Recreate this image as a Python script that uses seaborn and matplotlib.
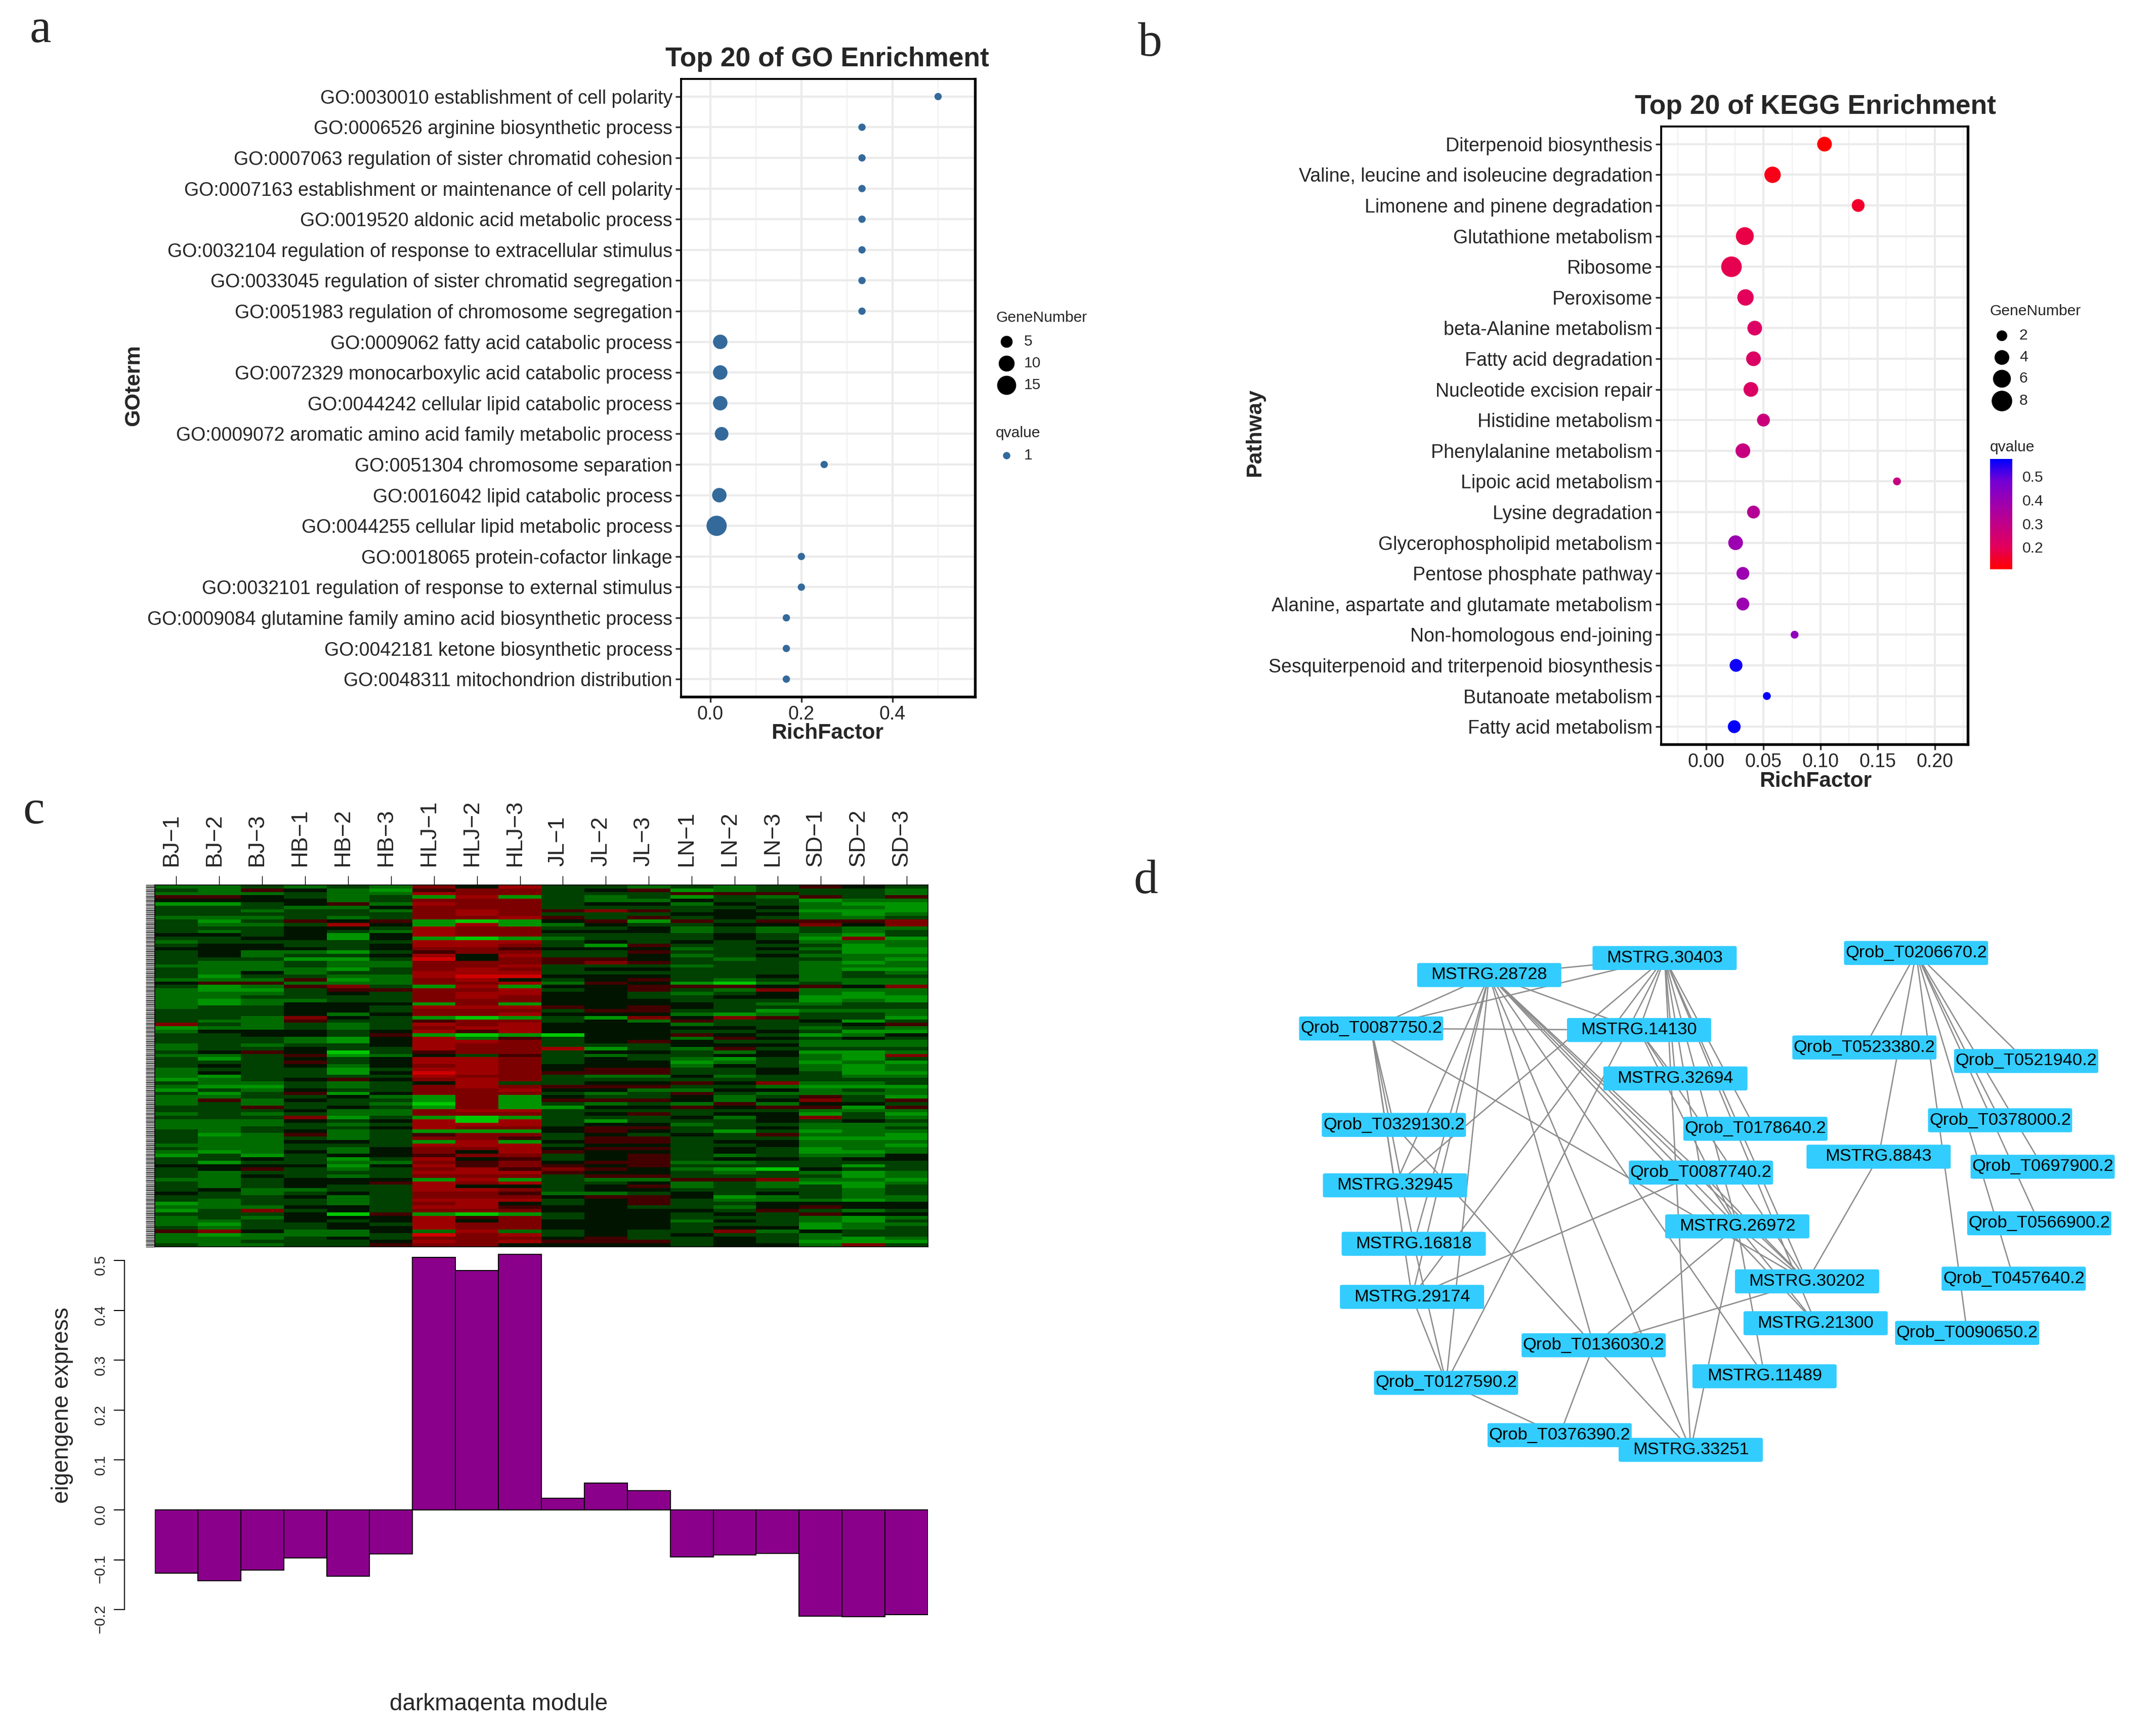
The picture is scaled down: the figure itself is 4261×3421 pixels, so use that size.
#!/usr/bin/env python3
"""Four panel figure: GO and KEGG enrichment, module heatmap with eigengene bars, network."""
import numpy as np
import pandas as pd
import matplotlib
matplotlib.use("Agg")
import matplotlib.pyplot as plt
import seaborn as sns
from matplotlib.colors import LinearSegmentedColormap, ListedColormap, Normalize
from matplotlib.patches import FancyBboxPatch, Rectangle
from matplotlib.transforms import ScaledTranslation

W, H = 4261, 3421

# panel a
go_terms = [
    "GO:0030010 establishment of cell polarity",
    "GO:0006526 arginine biosynthetic process",
    "GO:0007063 regulation of sister chromatid cohesion",
    "GO:0007163 establishment or maintenance of cell polarity",
    "GO:0019520 aldonic acid metabolic process",
    "GO:0032104 regulation of response to extracellular stimulus",
    "GO:0033045 regulation of sister chromatid segregation",
    "GO:0051983 regulation of chromosome segregation",
    "GO:0009062 fatty acid catabolic process",
    "GO:0072329 monocarboxylic acid catabolic process",
    "GO:0044242 cellular lipid catabolic process",
    "GO:0009072 aromatic amino acid family metabolic process",
    "GO:0051304 chromosome separation",
    "GO:0016042 lipid catabolic process",
    "GO:0044255 cellular lipid metabolic process",
    "GO:0018065 protein-cofactor linkage",
    "GO:0032101 regulation of response to external stimulus",
    "GO:0009084 glutamine family amino acid biosynthetic process",
    "GO:0042181 ketone biosynthetic process",
    "GO:0048311 mitochondrion distribution",
]
go_rich = [0.5, 0.333, 0.333, 0.333, 0.333, 0.333, 0.333, 0.333, 0.022, 0.022,
           0.022, 0.025, 0.25, 0.02, 0.014, 0.2, 0.2, 0.167, 0.167, 0.167]
go_genes = [1, 1, 1, 1, 1, 1, 1, 1, 8, 8, 8, 7, 1, 8, 17, 1, 1, 1, 1, 1]
go_legend_genes = [5, 10, 15]

# panel b
kegg_terms = [
    "Diterpenoid biosynthesis",
    "Valine, leucine and isoleucine degradation",
    "Limonene and pinene degradation",
    "Glutathione metabolism",
    "Ribosome",
    "Peroxisome",
    "beta-Alanine metabolism",
    "Fatty acid degradation",
    "Nucleotide excision repair",
    "Histidine metabolism",
    "Phenylalanine metabolism",
    "Lipoic acid metabolism",
    "Lysine degradation",
    "Glycerophospholipid metabolism",
    "Pentose phosphate pathway",
    "Alanine, aspartate and glutamate metabolism",
    "Non-homologous end-joining",
    "Sesquiterpenoid and triterpenoid biosynthesis",
    "Butanoate metabolism",
    "Fatty acid metabolism",
]
kegg_rich = [0.1035, 0.058, 0.133, 0.0337, 0.022, 0.0343, 0.0424, 0.0413, 0.039, 0.05,
             0.032, 0.167, 0.0413, 0.0256, 0.032, 0.032, 0.0773, 0.026, 0.053, 0.0244]
kegg_genes = [4, 5, 3, 6, 8, 5, 4, 4, 4, 3, 4, 1, 3, 4, 3, 3, 1, 3, 1, 3]
kegg_q = [0.11, 0.13, 0.15, 0.18, 0.19, 0.2, 0.22, 0.22, 0.22, 0.27,
          0.28, 0.28, 0.33, 0.39, 0.39, 0.39, 0.42, 0.56, 0.57, 0.57]
kegg_legend_genes = [2, 4, 6, 8]
q_ticks = [0.5, 0.4, 0.3, 0.2]

# panel c
samples = ["BJ−1", "BJ−2", "BJ−3", "HB−1", "HB−2", "HB−3", "HLJ−1", "HLJ−2", "HLJ−3",
           "JL−1", "JL−2", "JL−3", "LN−1", "LN−2", "LN−3", "SD−1", "SD−2", "SD−3"]
eigengene = [-0.127, -0.142, -0.121, -0.096, -0.133, -0.088, 0.506, 0.480, 0.512,
             0.023, 0.054, 0.039, -0.094, -0.090, -0.087, -0.213, -0.214, -0.210]
# levels: 0 bright green, 4 black, 8 bright red
heat_rows = [
    "223 232 647 332 323 543", "325 421 566 345 123 332", "222 322 766 333 555 332",
    "554 323 171 323 132 535", "444 423 666 322 433 122", "113 452 766 344 243 211",
    "333 224 666 333 334 221", "332 332 676 565 343 111", "333 333 676 333 444 212",
    "222 323 667 535 343 223", "313 545 101 451 535 556", "322 374 171 243 344 646",
    "333 443 766 334 232 322", "323 432 766 444 232 323", "443 414 766 333 343 213",
    "334 414 101 233 343 161", "233 333 777 343 434 222", "344 334 776 315 333 312",
    "444 434 665 444 234 211", "342 213 566 335 333 311", "342 334 747 334 234 222",
    "333 113 846 554 323 321", "322 322 666 565 333 212", "222 322 667 333 233 222",
    "322 213 676 344 333 211", "324 233 777 333 333 232", "313 322 788 444 334 233",
    "222 512 674 345 323 222", "455 222 667 254 102 322", "312 563 171 445 554 546",
    "211 355 667 345 326 222", "222 343 677 443 234 212", "223 333 676 443 344 111",
    "212 233 666 444 333 121", "212 444 161 444 432 233", "233 443 777 545 433 333",
    "333 443 666 355 331 222", "333 424 667 444 212 332", "332 643 101 316 465 331",
    "322 533 566 342 533 413", "632 323 767 444 233 345", "122 323 677 444 443 232",
    "244 434 757 444 334 311", "334 435 101 044 543 124", "333 214 725 344 254 343",
    "333 214 776 345 433 222", "232 334 766 333 444 222", "233 433 766 713 253 333",
    "345 403 566 344 324 112", "223 512 435 323 344 216", "313 434 776 343 213 213",
    "333 534 776 344 123 121", "343 424 676 444 243 212", "233 313 776 455 334 212",
    "243 314 876 555 334 311", "213 333 766 322 423 322", "123 454 676 333 333 333",
    "322 323 473 344 546 223", "211 323 676 555 332 111", "132 433 667 442 244 232",
    "313 514 666 323 532 222", "223 342 161 433 423 531", "252 433 161 555 424 635",
    "232 332 061 323 252 443", "335 343 161 144 545 515", "333 422 677 333 333 222",
    "232 322 666 345 344 131", "333 613 101 333 424 632", "222 434 707 313 334 343",
    "222 323 777 344 233 222", "223 334 766 455 334 223", "323 423 111 454 313 122",
    "312 523 566 343 435 221", "322 323 665 355 333 111", "322 443 171 455 344 222",
    "222 333 777 344 334 221", "322 324 667 455 343 122", "212 424 647 544 343 112",
    "131 344 566 345 323 224", "334 313 745 345 344 344", "313 322 656 455 223 333",
    "444 414 756 545 333 313", "345 323 675 654 210 433", "323 333 777 544 323 212",
    "324 323 666 355 333 312", "223 444 171 322 556 221", "323 445 767 334 232 112",
    "323 433 744 345 232 313", "342 233 776 344 333 323", "432 343 665 223 434 323",
    "333 423 666 455 412 322", "323 323 777 345 322 212", "123 323 674 345 334 444",
    "222 443 775 443 324 544", "136 343 666 444 435 323", "333 405 101 344 343 544",
    "232 444 756 344 333 212", "223 434 746 444 243 213", "213 343 766 444 333 122",
    "323 344 766 444 344 123", "564 224 272 343 362 433", "212 223 867 343 433 233",
    "222 343 666 453 343 212", "223 334 767 555 343 111", "322 335 664 444 344 263",
]

# panel d
node_names = [
    "MSTRG.30403", "MSTRG.28728", "Qrob_T0206670.2", "Qrob_T0087750.2", "MSTRG.14130",
    "Qrob_T0523380.2", "Qrob_T0521940.2", "MSTRG.32694", "Qrob_T0329130.2", "Qrob_T0178640.2",
    "Qrob_T0378000.2", "MSTRG.8843", "Qrob_T0087740.2", "Qrob_T0697900.2", "MSTRG.32945",
    "MSTRG.26972", "Qrob_T0566900.2", "MSTRG.16818", "MSTRG.29174", "MSTRG.30202",
    "Qrob_T0457640.2", "MSTRG.21300", "Qrob_T0090650.2", "Qrob_T0136030.2", "MSTRG.11489",
    "Qrob_T0127590.2", "Qrob_T0376390.2", "MSTRG.33251",
]
node_x = [705, 396, 1148, 188, 660, 1057, 1342, 724, 228, 865, 1296, 1082, 769, 1371,
          230, 833, 1365, 263, 260, 956, 1320, 971, 1238, 580, 881, 320, 520, 751]
node_y = [118, 162, 105, 300, 304, 349, 384, 429, 549, 559, 537, 631, 672, 657,
          705, 811, 803, 856, 993, 953, 946, 1061, 1086, 1118, 1198, 1215, 1350, 1388]
edges = [
    ("Qrob_T0206670.2", "Qrob_T0523380.2"), ("Qrob_T0206670.2", "Qrob_T0521940.2"),
    ("Qrob_T0206670.2", "Qrob_T0378000.2"), ("Qrob_T0206670.2", "Qrob_T0697900.2"),
    ("Qrob_T0206670.2", "Qrob_T0566900.2"), ("Qrob_T0206670.2", "Qrob_T0457640.2"),
    ("Qrob_T0206670.2", "Qrob_T0090650.2"), ("Qrob_T0206670.2", "MSTRG.8843"),
    ("MSTRG.8843", "MSTRG.30202"),
    ("MSTRG.30403", "MSTRG.28728"), ("MSTRG.30403", "Qrob_T0087750.2"),
    ("MSTRG.30403", "MSTRG.14130"), ("MSTRG.30403", "MSTRG.32694"),
    ("MSTRG.30403", "Qrob_T0178640.2"), ("MSTRG.30403", "Qrob_T0087740.2"),
    ("MSTRG.30403", "MSTRG.26972"), ("MSTRG.30403", "MSTRG.30202"),
    ("MSTRG.30403", "MSTRG.21300"), ("MSTRG.30403", "MSTRG.33251"),
    ("MSTRG.30403", "MSTRG.32945"), ("MSTRG.30403", "MSTRG.29174"),
    ("MSTRG.30403", "Qrob_T0127590.2"),
    ("MSTRG.28728", "Qrob_T0087750.2"), ("MSTRG.28728", "MSTRG.14130"),
    ("MSTRG.28728", "MSTRG.32945"), ("MSTRG.28728", "MSTRG.16818"),
    ("MSTRG.28728", "MSTRG.29174"), ("MSTRG.28728", "Qrob_T0127590.2"),
    ("MSTRG.28728", "Qrob_T0136030.2"), ("MSTRG.28728", "MSTRG.33251"),
    ("MSTRG.28728", "MSTRG.26972"), ("MSTRG.28728", "MSTRG.30202"),
    ("MSTRG.28728", "MSTRG.11489"), ("MSTRG.28728", "MSTRG.21300"),
    ("MSTRG.28728", "Qrob_T0087740.2"),
    ("Qrob_T0087750.2", "MSTRG.14130"), ("Qrob_T0087750.2", "MSTRG.32945"),
    ("Qrob_T0087750.2", "MSTRG.16818"), ("Qrob_T0087750.2", "MSTRG.29174"),
    ("Qrob_T0087750.2", "Qrob_T0329130.2"), ("Qrob_T0087750.2", "MSTRG.30202"),
    ("MSTRG.14130", "MSTRG.32694"), ("MSTRG.14130", "MSTRG.30202"),
    ("MSTRG.14130", "MSTRG.26972"),
    ("Qrob_T0329130.2", "Qrob_T0136030.2"), ("Qrob_T0087740.2", "MSTRG.29174"),
    ("Qrob_T0087740.2", "MSTRG.26972"), ("Qrob_T0087740.2", "MSTRG.30202"),
    ("MSTRG.30202", "Qrob_T0136030.2"), ("MSTRG.26972", "Qrob_T0136030.2"),
    ("MSTRG.26972", "MSTRG.33251"), ("MSTRG.26972", "MSTRG.11489"),
    ("MSTRG.26972", "MSTRG.21300"), ("MSTRG.26972", "MSTRG.30202"),
    ("Qrob_T0136030.2", "Qrob_T0376390.2"), ("Qrob_T0136030.2", "MSTRG.33251"),
    ("Qrob_T0127590.2", "Qrob_T0376390.2"), ("MSTRG.29174", "Qrob_T0127590.2"),
    ("MSTRG.16818", "Qrob_T0127590.2"),
]


def px_axes(fig, left, top, right, bottom):
    # axes placed by pixel box on the final image
    return fig.add_axes([left / W, 1 - bottom / H, (right - left) / W, (bottom - top) / H])


def gene_area(genes, gmin, gmax, smin, smax):
    return smin + (np.asarray(genes, dtype=float) - gmin) / (gmax - gmin) * (smax - smin)


def dot_panel(ax, df, xlim, xticks, xminor, labels_fmt, sizes, size_norm, **kw):
    sns.scatterplot(data=df, x="rich", y="term", size="genes", sizes=sizes, size_norm=size_norm,
                    linewidth=0, legend=False, ax=ax, zorder=3, **kw)
    ax.set_xlim(*xlim)
    ax.set_ylim(19.575, -0.575)
    ax.set_xticks(xticks)
    ax.set_xticklabels([labels_fmt % v for v in xticks])
    ax.set_xticks(xminor, minor=True)
    ax.set_xlabel("")
    ax.set_ylabel("")
    ax.set_axisbelow(True)
    ax.grid(which="major", color="#ebebeb", lw=1.0)
    ax.grid(which="minor", axis="x", color="#f0f0f0", lw=0.5)
    ax.tick_params(which="minor", length=0)
    ax.tick_params(which="major", length=2.6, width=0.8, labelsize=9, pad=1.5, color="#333333")
    for name, spine in ax.spines.items():
        spine.set_visible(True)
        spine.set_color("black")
        spine.set_linewidth(1.3 if name in ("right", "bottom") else 0.9)


def main():
    sns.set_theme(style="ticks")
    plt.rcParams["font.family"] = ["Liberation Sans", "DejaVu Sans"]

    fig = plt.figure(figsize=(W / 300, H / 300), dpi=300, facecolor="white")

    # a: GO dots
    ax_a = px_axes(fig, 1346, 156, 1927, 1377)
    df_go = pd.DataFrame({"term": go_terms, "rich": go_rich, "genes": go_genes})
    dot_panel(ax_a, df_go, (-0.064, 0.581), [0.0, 0.2, 0.4], [0.1, 0.3, 0.5], "%.1f",
              (12, 92), (1, 17), color="#336a9b")

    # b: KEGG dots, red to blue passes through magenta as in the source
    q_cmap = LinearSegmentedColormap.from_list(
        "q", ["#ff0000", "#e3005b", "#c20085", "#9e00ae", "#7500d5", "#0000ff"])
    q_norm = Normalize(0.106, 0.574)
    ax_b = px_axes(fig, 3283, 250, 3889, 1471)
    df_kegg = pd.DataFrame({"term": kegg_terms, "rich": kegg_rich, "genes": kegg_genes, "q": kegg_q})
    dot_panel(ax_b, df_kegg, (-0.0396, 0.229), [0.0, 0.05, 0.10, 0.15, 0.20],
              [-0.025, 0.025, 0.075, 0.125, 0.175, 0.225], "%.2f",
              (14, 95), (1, 8), hue="q", palette=q_cmap, hue_norm=q_norm)

    cax = px_axes(fig, 3933, 907, 3977, 1125)
    cbar = fig.colorbar(plt.cm.ScalarMappable(norm=q_norm, cmap=q_cmap), cax=cax)
    cbar.set_ticks(q_ticks)
    cbar.ax.tick_params(length=1.6, width=0.4, color="white", labelsize=7.2, pad=3.2)
    cbar.outline.set_visible(False)

    # c: heatmap, level colours kept dark like the source
    heat = np.array([[int(c) for c in r.replace(" ", "")] for r in heat_rows], dtype=float)
    green_red = ListedColormap(["#00c800", "#009400", "#006c00", "#004000", "#001400",
                                "#420000", "#7c0000", "#9c0000", "#d00000"])
    ax_h = px_axes(fig, 306, 1749, 1834, 2464)
    sns.heatmap(heat, cmap=green_red, vmin=-0.5, vmax=8.5, cbar=False, ax=ax_h,
                xticklabels=samples, yticklabels=False)
    ax_h.xaxis.tick_top()
    ax_h.tick_params(axis="x", length=4.3, width=0.35, pad=4.6, labelsize=10.8,
                     labelrotation=90, color="black")
    # labels sit a little left of their ticks in the source
    shift = ScaledTranslation(-2.4 / 72, 0, fig.dpi_scale_trans)
    for t in ax_h.get_xticklabels():
        t.set_transform(t.get_transform() + shift)
    ax_h.set_yticks(np.linspace(0, len(heat_rows), 266))
    ax_h.set_yticklabels([])
    ax_h.tick_params(axis="y", length=4.3, width=0.3, color="black")
    for spine in ax_h.spines.values():
        spine.set_visible(True)
        spine.set_linewidth(0.4)
        spine.set_color("black")

    # c: eigengene bars
    ax_e = px_axes(fig, 306, 2470, 1834, 3230)
    sns.barplot(x=samples, y=eigengene, color="#8b008b", saturation=1, width=1,
                edgecolor="black", linewidth=0.5, ax=ax_e)
    ax_e.set_xlim(-0.5, 17.5)
    ax_e.set_ylim(-0.2495, 0.5213)
    ax_e.set_xticks([])
    ax_e.set_yticks([-0.2, -0.1, 0.0, 0.1, 0.2, 0.3, 0.4, 0.5])
    ax_e.tick_params(axis="y", length=5, width=0.5, labelsize=7, labelrotation=90, pad=3,
                     color="black")
    for t in ax_e.get_yticklabels():
        t.set_va("center")
    for name in ("top", "right", "bottom"):
        ax_e.spines[name].set_visible(False)
    ax_e.spines["left"].set_position(("outward", 14.4))
    ax_e.spines["left"].set_bounds(-0.2, 0.5)
    ax_e.spines["left"].set_linewidth(0.5)
    ax_e.spines["left"].set_color("black")
    ax_e.patch.set_alpha(0)

    # d: network
    ax_n = px_axes(fig, 2499, 1803, 4249, 2997)
    ax_n.set_xlim(0, 1560)
    ax_n.set_ylim(1560, 0)
    ax_n.axis("off")
    pos = dict(zip(node_names, zip(node_x, node_y)))
    for a, b in edges:
        ax_n.plot([pos[a][0], pos[b][0]], [pos[a][1], pos[b][1]], color="#8c8c8c", lw=0.62, zorder=1)
    for name, x, y in zip(node_names, node_x, node_y):
        box = FancyBboxPatch((x - 123, y - 27), 246, 54, boxstyle="round,pad=4,rounding_size=4",
                             fc="#33ccff", ec="none", zorder=2)
        ax_n.add_patch(box)
        ax_n.text(x, y, name, ha="center", va="center", fontsize=8.25, color="black", zorder=3)

    # texts and hand made legends on a pixel overlay
    ov = fig.add_axes([0, 0, 1, 1], zorder=10)
    ov.set_xlim(0, W)
    ov.set_ylim(H, 0)
    ov.axis("off")

    for s, x, y in [("a", 80, 60), ("b", 2273, 87), ("c", 67, 1604), ("d", 2265, 1742)]:
        ov.text(x, y, s, family="Liberation Serif", fontsize=23, ha="center", va="center")

    ov.text(1635, 117, "Top 20 of GO Enrichment", fontsize=12.8, weight="bold", ha="center", va="center")
    ov.text(1635, 1449, "RichFactor", fontsize=10.2, weight="bold", ha="center", va="center")
    ov.text(264, 762, "GOterm", fontsize=10.4, weight="bold", rotation=90, ha="center", va="center")
    ov.text(3588, 211, "Top 20 of KEGG Enrichment", fontsize=12.8, weight="bold", ha="center", va="center")
    ov.text(3588, 1544, "RichFactor", fontsize=10.2, weight="bold", ha="center", va="center")
    ov.text(2480, 855, "Pathway", fontsize=10.3, weight="bold", rotation=90, ha="center", va="center")

    ov.text(1968, 628, "GeneNumber", fontsize=7.2, va="center")
    for g, y in zip(go_legend_genes, [675, 718, 761]):
        ov.scatter([1989], [y], s=gene_area(g, 1, 17, 12, 92), color="black", linewidth=0)
        ov.text(2024, y, str(g), fontsize=7.2, va="center")
    ov.text(1968, 856, "qvalue", fontsize=7.2, va="center")
    ov.scatter([1989], [900], s=12, color="#336a9b", linewidth=0)
    ov.text(2024, 900, "1", fontsize=7.2, va="center")

    ov.text(3933, 615, "GeneNumber", fontsize=7.2, va="center")
    for g, y in zip(kegg_legend_genes, [663, 706, 748, 792]):
        ov.scatter([3956], [y], s=gene_area(g, 1, 8, 14, 95), color="black", linewidth=0)
        ov.text(3991, y, str(g), fontsize=7.2, va="center")
    ov.text(3933, 884, "qvalue", fontsize=7.2, va="center")

    ov.text(123, 2777, "eigengene express", fontsize=11, rotation=90, ha="center", va="center")
    ov.text(985, 3368, "darkmagenta module", fontsize=11, ha="center", va="center")
    # the descenders are cut in the source image
    ov.add_patch(Rectangle((0, 3382), W, H - 3382, fc="white", ec="none", zorder=5))

    fig.savefig("out.png", dpi=300)
    plt.close(fig)


if __name__ == "__main__":
    main()
